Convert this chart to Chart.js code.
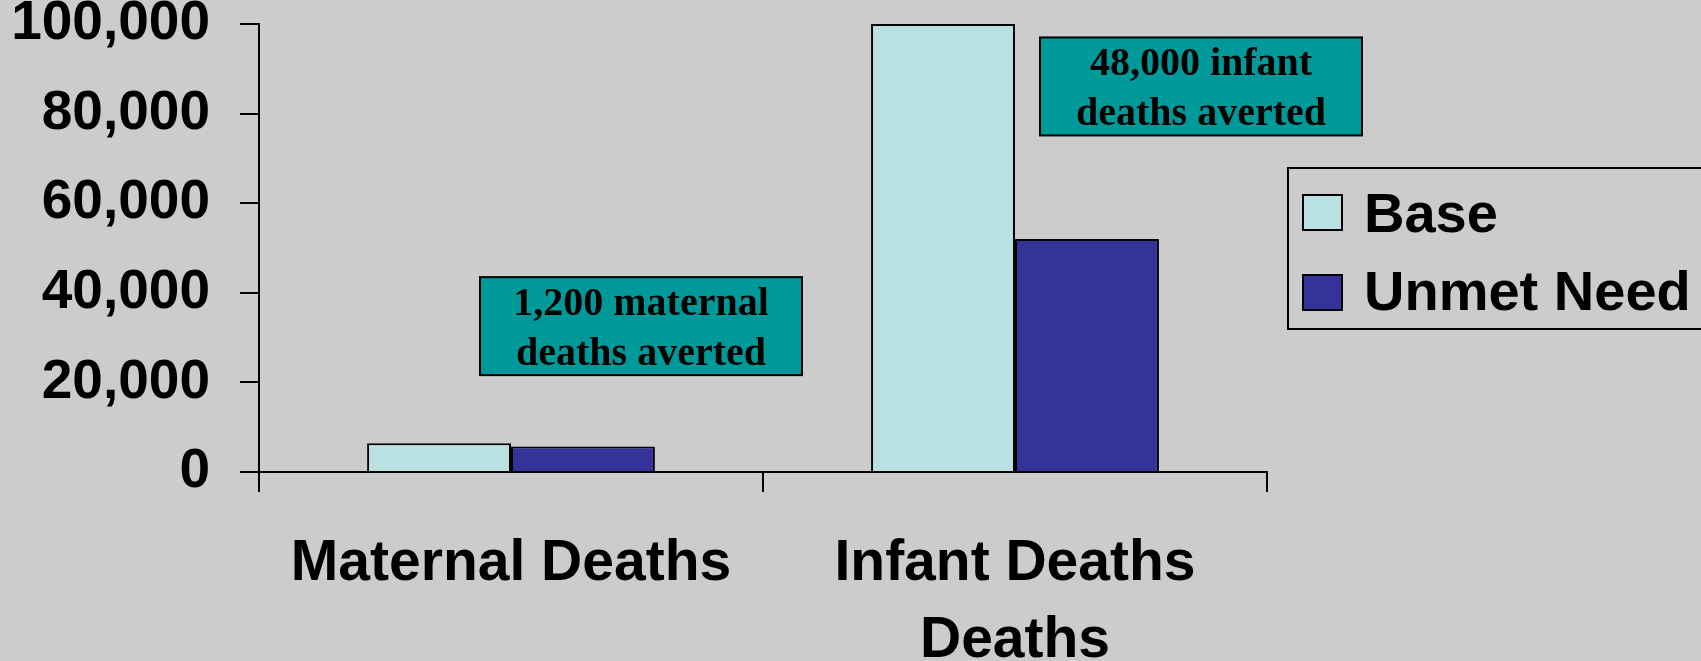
<!DOCTYPE html>
<html>
<head>
<meta charset="utf-8">
<script src="https://cdn.jsdelivr.net/npm/chart.js@4.4.1/dist/chart.umd.min.js"></script>
<style>
  html, body { margin: 0; padding: 0; background: #cccccc; }
  canvas { display: block; }
</style>
</head>
<body>
<canvas id="chart" width="1701" height="661"></canvas>
<script>
// values
const categories = ["Maternal Deaths", ["Infant Deaths", "Deaths"]];
const seriesNames = ["Base", "Unmet Need"];
const baseValues = [6400, 100000];
const unmetValues = [5700, 52000];
const yTickValues = [0, 20000, 40000, 60000, 80000, 100000];
const notes = [
  ["1,200 maternal", "deaths averted"],
  ["48,000 infant", "deaths averted"],
];

const baseColor = "#b9e0e2";
const unmetColor = "#333399";
const noteColor = "#009999";
const sans = "'Liberation Sans', Arial, sans-serif";
const serif = "'Liberation Serif', 'Times New Roman', serif";

// grey slide background
const background = {
  id: "background",
  beforeDraw(chart) {
    const ctx = chart.ctx;
    ctx.save();
    ctx.fillStyle = "#cccccc";
    ctx.fillRect(0, 0, chart.width, chart.height);
    ctx.restore();
  },
};

// teal text boxes + boxed legend on the right
const extras = {
  id: "extras",
  afterDraw(chart) {
    const ctx = chart.ctx;
    const area = chart.chartArea;
    const y = chart.scales.y;
    ctx.save();

    // note boxes, placed relative to the plot area
    const boxes = [
      { left: area.left + 221, top: y.getPixelForValue(43500) },
      { left: area.left + 781, top: y.getPixelForValue(97000) },
    ];
    boxes.forEach((b, i) => {
      const w = 322, h = 98;
      ctx.fillStyle = noteColor;
      ctx.fillRect(b.left, b.top, w, h);
      ctx.strokeStyle = "#000";
      ctx.lineWidth = 2;
      ctx.strokeRect(b.left, b.top, w, h);
      ctx.fillStyle = "#000";
      ctx.font = "bold 40px " + serif;
      ctx.textAlign = "center";
      ctx.textBaseline = "alphabetic";
      ctx.fillText(notes[i][0], b.left + w / 2, b.top + 38);
      ctx.fillText(notes[i][1], b.left + w / 2, b.top + 88);
    });

    // legend
    const lx = area.right + 21, ly = 168;
    ctx.strokeStyle = "#000";
    ctx.lineWidth = 2;
    ctx.strokeRect(lx, ly, 440, 161);
    const colors = [baseColor, unmetColor];
    seriesNames.forEach((name, i) => {
      const sy = 195 + i * 80;
      ctx.fillStyle = colors[i];
      ctx.fillRect(lx + 15, sy, 39, 35);
      ctx.strokeRect(lx + 15, sy, 39, 35);
      ctx.fillStyle = "#000";
      ctx.font = "bold 56px " + sans;
      ctx.textAlign = "left";
      ctx.textBaseline = "alphabetic";
      ctx.fillText(name, lx + 76, 232 + i * 78);
    });

    ctx.restore();
  },
};

new Chart(document.getElementById("chart"), {
  type: "bar",
  data: {
    labels: categories,
    datasets: [
      {
        label: seriesNames[0],
        data: baseValues,
        backgroundColor: baseColor,
        borderColor: "#000",
        borderWidth: 2,
      },
      {
        label: seriesNames[1],
        data: unmetValues,
        backgroundColor: unmetColor,
        borderColor: "#000",
        borderWidth: 2,
      },
    ],
  },
  options: {
    responsive: false,
    animation: false,
    layout: { padding: { top: 24, right: 434, left: 0, bottom: 0 } },
    datasets: {
      bar: { categoryPercentage: 0.571, barPercentage: 1.0 },
    },
    plugins: {
      legend: { display: false },
      tooltip: { enabled: false },
    },
    scales: {
      x: {
        afterFit: (scale) => {
          scale.height = 189;
          scale.paddingLeft = 0;
          scale.paddingRight = 0;
        },
        grid: {
          drawOnChartArea: false,
          drawTicks: true,
          tickLength: 20,
          color: "#000",
          lineWidth: 2,
        },
        border: { display: true, color: "#000", width: 2 },
        ticks: {
          color: "#000",
          padding: 34,
          maxRotation: 0,
          autoSkip: false,
          font: { family: sans, size: 57, weight: "bold", lineHeight: 1.35 },
        },
      },
      y: {
        min: 0,
        max: 100000,
        afterFit: (scale) => {
          scale.width = 259;
          scale.paddingTop = 0;
          scale.paddingBottom = 0;
        },
        afterBuildTicks: (scale) => {
          scale.ticks = yTickValues.map((v) => ({ value: v }));
        },
        grid: {
          drawOnChartArea: false,
          drawTicks: true,
          tickLength: 19,
          color: "#000",
          lineWidth: 2,
        },
        border: { display: true, color: "#000", width: 2 },
        ticks: {
          color: "#000",
          padding: 30,
          font: { family: sans, size: 55, weight: "bold" },
          callback: (v) => Number(v).toLocaleString("en-US"),
        },
      },
    },
  },
  plugins: [background, extras],
});
</script>
</body>
</html>
